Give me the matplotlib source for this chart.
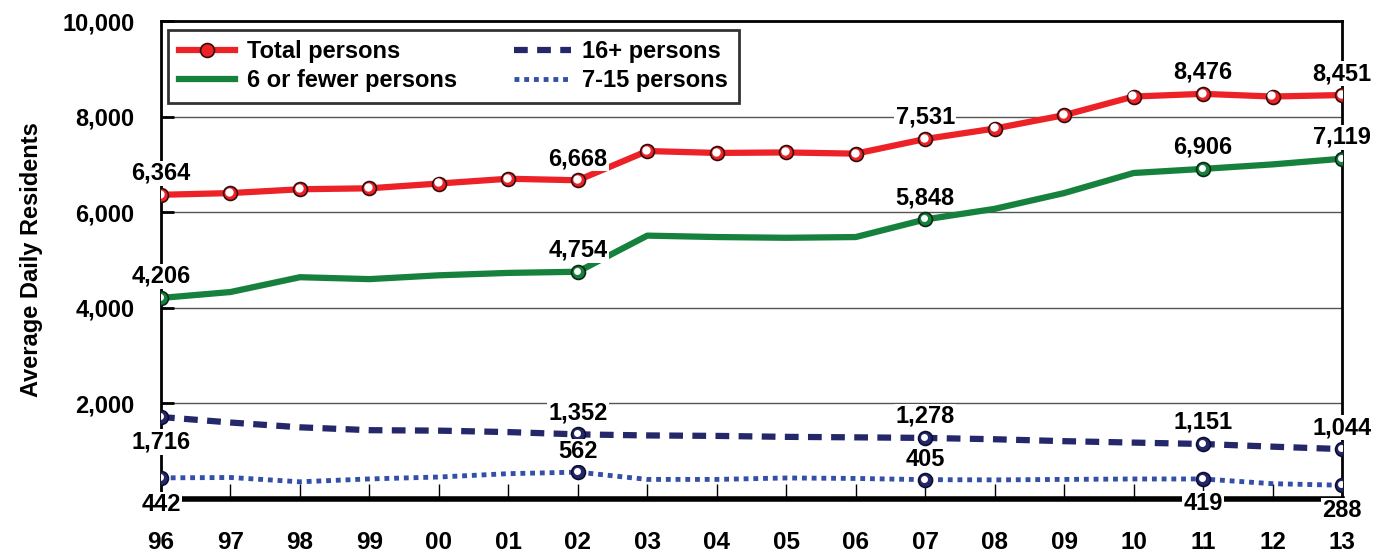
import matplotlib
matplotlib.use("Agg")
import matplotlib.pyplot as plt
import matplotlib.transforms as mtransforms

# data
years = ["96", "97", "98", "99", "00", "01", "02", "03", "04", "05",
         "06", "07", "08", "09", "10", "11", "12", "13"]
total = [6364, 6400, 6480, 6500, 6600, 6700, 6668, 7280, 7240, 7250,
         7225, 7531, 7750, 8030, 8420, 8476, 8420, 8451]
six_or_fewer = [4206, 4330, 4640, 4600, 4680, 4730, 4754, 5510, 5480, 5465,
                5480, 5848, 6070, 6400, 6820, 6906, 7000, 7119]
sixteen_plus = [1716, 1600, 1500, 1440, 1430, 1400, 1352, 1330, 1320, 1300,
                1290, 1278, 1250, 1210, 1180, 1151, 1095, 1044]
seven_15 = [442, 450, 360, 420, 460, 530, 562, 410, 410, 440,
            430, 405, 400, 410, 419, 419, 320, 288]
labelled = [0, 6, 11, 15, 17]

RED = "#ec2227"
GREEN = "#16813d"
NAVY = "#24286a"
BLUE = "#3350a6"

plt.rcParams["font.family"] = ["Liberation Sans", "DejaVu Sans"]
plt.rcParams["font.weight"] = "bold"

fig = plt.figure(figsize=(13.74, 5.56), dpi=100)
ax = fig.add_axes([161 / 1374, 1 - 499 / 556, 1181 / 1374, 478 / 556])
x = list(range(len(years)))


def highlight(xs, ys, zorder, size=5.5):
    # small white spot to fake the glossy ball look
    tr = mtransforms.offset_copy(ax.transData, fig=fig, x=-0.8, y=0.8, units="points")
    ax.plot(xs, ys, linestyle="none", marker="o", markersize=size,
            markerfacecolor="white", markeredgewidth=0, transform=tr, zorder=zorder)


ax.plot(x, total, color=RED, lw=4.5, marker="o", markersize=10,
        markerfacecolor=RED, markeredgecolor="#3a0a0a", markeredgewidth=1.2,
        label="Total persons", zorder=6)
highlight(x, total, 6.1, size=6)

ax.plot(x, six_or_fewer, color=GREEN, lw=4.5, label="6 or fewer persons", zorder=5)
ax.plot([x[i] for i in labelled], [six_or_fewer[i] for i in labelled], linestyle="none",
        marker="o", markersize=10, markerfacecolor=GREEN, markeredgecolor="#082a12",
        markeredgewidth=1.2, zorder=5.5)
highlight([x[i] for i in labelled], [six_or_fewer[i] for i in labelled], 5.6, size=5)

ax.plot(x, sixteen_plus, color=NAVY, lw=4.5, linestyle=(0, (2.2, 1.5)),
        label="16+ persons", zorder=4)
ax.plot(x, seven_15, color=BLUE, lw=3.5, linestyle=(0, (1, 1)),
        label="7-15 persons", zorder=4)
for series in (sixteen_plus, seven_15):
    ax.plot([x[i] for i in labelled], [series[i] for i in labelled], linestyle="none",
            marker="o", markersize=10, markerfacecolor=NAVY, markeredgecolor="#0c0e30",
            markeredgewidth=1.2, zorder=4.5)
    highlight([x[i] for i in labelled], [series[i] for i in labelled], 4.6, size=5)

# value labels: labels above (+) or below (-) the point
box = dict(boxstyle="square,pad=0.05", facecolor="white", edgecolor="none")
above, below = 15.5, -18
label_specs = [
    (total, 0, above), (total, 6, above), (total, 11, above), (total, 15, above), (total, 17, above),
    (six_or_fewer, 0, above), (six_or_fewer, 6, above), (six_or_fewer, 11, above),
    (six_or_fewer, 15, above), (six_or_fewer, 17, above),
    (sixteen_plus, 0, below), (sixteen_plus, 6, above), (sixteen_plus, 11, above),
    (sixteen_plus, 15, above), (sixteen_plus, 17, above),
    (seven_15, 0, below - 1), (seven_15, 6, 14.5), (seven_15, 11, 14.5),
    (seven_15, 15, below), (seven_15, 17, below),
]
for series, i, dy in label_specs:
    ax.annotate(f"{series[i]:,}", (x[i], series[i]), xytext=(0, dy),
                textcoords="offset points", ha="center", va="center",
                fontsize=17, fontweight="bold", bbox=box, zorder=10)

ax.set_xlim(0, len(years) - 1)
ax.set_ylim(0, 10000)
ax.set_xticks(x)
ax.set_xticklabels(years)
ax.set_yticks([2000, 4000, 6000, 8000, 10000])
ax.set_yticklabels(["2,000", "4,000", "6,000", "8,000", "10,000"])
ax.tick_params(axis="x", direction="in", length=11, width=1, pad=23, labelsize=17.5)
ax.tick_params(axis="y", direction="in", length=9, width=2, pad=19, labelsize=17)
for lab in ax.get_xticklabels() + ax.get_yticklabels():
    lab.set_fontweight("bold")
ax.yaxis.grid(True, color="#555555", lw=1)
ax.set_axisbelow(True)

for side in ("left", "right", "top"):
    ax.spines[side].set_linewidth(2)
ax.spines["bottom"].set_linewidth(4)
ax.spines["bottom"].set_zorder(3)

ax.set_ylabel("Average Daily Residents", fontsize=17, fontweight="bold")
ax.yaxis.set_label_coords(-0.1, 0.5)

leg = ax.legend(ncol=2, loc="upper left", bbox_to_anchor=(0.006, 0.982),
                borderaxespad=0, fontsize=17, frameon=True, fancybox=False,
                edgecolor="black", handlelength=2.4, handletextpad=0.5,
                columnspacing=2.4, labelspacing=0.25, borderpad=0.45,
                numpoints=1)
leg.get_frame().set_linewidth(2)
leg.set_zorder(20)
for t in leg.get_texts():
    t.set_fontweight("bold")

fig.savefig("out.png", dpi=100)
